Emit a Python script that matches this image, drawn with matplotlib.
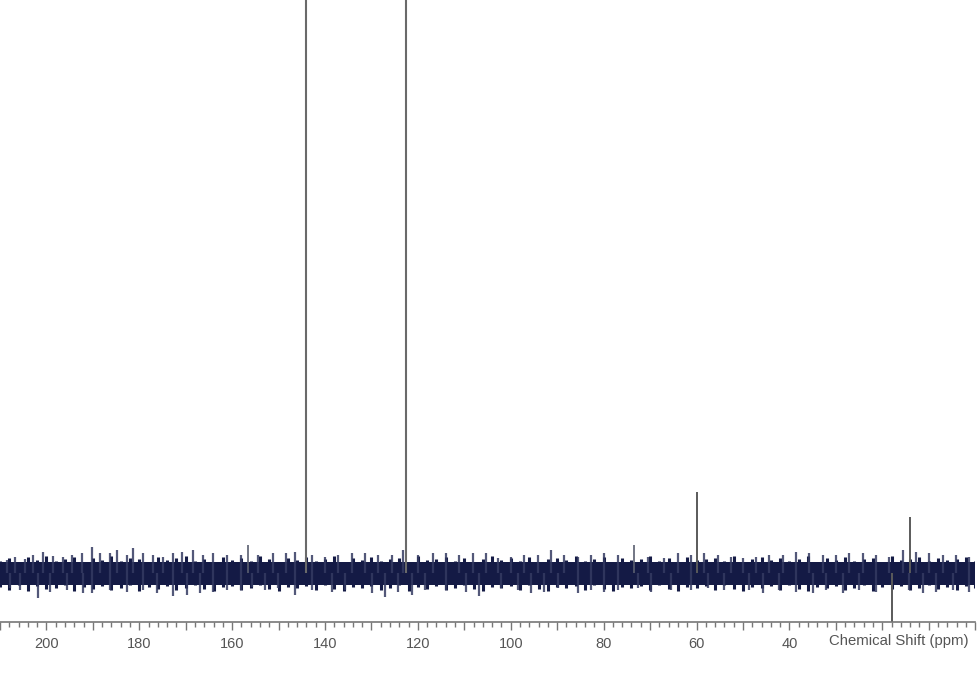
import numpy as np
import matplotlib.pyplot as plt
from matplotlib.ticker import MultipleLocator, FuncFormatter

# noise band, sampled every 2 ppm from 210 down to 0 (upper / lower excursion)
band_ppm = np.arange(210, -1, -2)
band_hi = [12, 15, 11, 16, 13, 17, 12, 14, 16, 11,
           15, 13, 17, 12, 15, 14, 11, 16, 13, 15,
           17, 12, 14, 11, 16, 13, 15, 12, 17, 14,
           11, 15, 13, 16, 12, 14, 17, 11, 15, 13,
           16, 12, 14, 15, 11, 17, 13, 14, 16, 12,
           15, 11, 14, 17, 13, 15, 12, 16, 11, 14,
           15, 13, 17, 12, 14, 16, 11, 15, 13, 14,
           17, 12, 15, 11, 16, 13, 14, 15, 12, 17,
           11, 14, 16, 13, 15, 12, 14, 17, 11, 15,
           13, 16, 12, 14, 15, 11, 17, 13, 14, 16,
           12, 15, 13, 14, 16, 12]
band_lo = [-14, -17, -12, -18, -13, -16, -15, -12, -18, -14,
           -16, -13, -17, -15, -12, -18, -14, -16, -13, -17,
           -15, -12, -16, -18, -14, -13, -17, -15, -12, -16,
           -18, -14, -15, -13, -17, -12, -16, -18, -14, -15,
           -13, -17, -15, -12, -18, -14, -16, -13, -17, -15,
           -12, -16, -18, -14, -15, -13, -17, -12, -16, -18,
           -14, -15, -13, -17, -12, -16, -18, -14, -15, -13,
           -17, -12, -16, -18, -14, -15, -13, -17, -12, -16,
           -18, -14, -15, -13, -17, -12, -16, -18, -14, -15,
           -13, -17, -15, -12, -18, -14, -16, -13, -17, -15,
           -12, -16, -14, -17, -13, -15]
core_hi = 11
core_lo = -12

# noise spikes above the band
up_ppm = [208.5, 206.8, 204.6, 202.9, 200.7, 198.6, 196.4, 194.5, 192.3, 190.2, 188.4,
          186.3, 184.8, 182.6, 181.3, 179.2, 177.0, 174.9, 172.7, 170.8, 168.4, 166.2,
          164.1, 161.1, 158.2, 154.4, 151.3, 148.5, 146.4, 142.7, 139.9, 137.1, 134.1,
          131.3, 128.5, 125.5, 123.3, 119.9, 116.8, 114.0, 111.2, 108.2, 105.4, 102.8,
          100.0, 97.2, 94.2, 91.4, 88.6, 85.6, 82.8, 80.0, 77.0, 70.5, 67.0, 64.0, 61.2,
          58.4, 55.4, 52.6, 50.0, 47.2, 44.4, 41.4, 38.6, 35.8, 32.8, 30.0, 27.1, 24.1,
          21.3, 18.5, 15.5, 12.7, 9.9, 6.9, 4.1, 1.3]
up_h = [13, 16, 14, 18, 21, 17, 16, 18, 20, 26, 20,
        20, 23, 18, 25, 20, 18, 16, 20, 21, 23, 18,
        20, 18, 18, 18, 20, 20, 21, 18, 16, 18, 20,
        20, 18, 18, 23, 18, 20, 20, 18, 20, 20, 15,
        16, 18, 18, 23, 18, 16, 18, 20, 18, 16, 15, 20, 18,
        20, 18, 16, 15, 16, 18, 18, 21, 20, 18, 18, 20, 20,
        18, 16, 23, 21, 20, 18, 18, 16]

# noise spikes below the band
dn_ppm = [207.8, 205.7, 201.8, 199.2, 195.6, 192.1, 190.2, 186.3, 182.6, 179.2, 176.1,
          172.7, 169.7, 166.9, 164.1, 161.1, 158.2, 155.7, 152.9, 150.1, 146.4, 142.7,
          138.4, 135.6, 129.8, 127.0, 124.2, 121.2, 118.4, 114.0, 109.7, 106.9, 102.2,
          98.5, 95.7, 92.9, 89.9, 85.6, 82.8, 80.0, 77.0, 72.6, 69.8, 65.5, 61.2, 57.6,
          54.1, 48.7, 45.7, 42.2, 38.6, 34.9, 32.1, 28.4, 25.0, 21.3, 14.2, 11.2, 8.4,
          4.7, 1.3]
dn_h = [-15, -17, -25, -19, -17, -20, -20, -17, -19, -17, -20,
        -23, -22, -20, -19, -17, -17, -14, -17, -15, -22, -17,
        -19, -17, -20, -24, -19, -22, -17, -17, -19, -23, -15,
        -17, -20, -19, -15, -20, -17, -19, -17, -15, -19, -17, -17, -15,
        -17, -17, -20, -17, -19, -20, -17, -20, -17, -19, -17, -20, -19,
        -17, -19]

# resolved signals
peak_ppm = [144.2, 122.5, 156.5, 73.5, 59.9, 14.0, 17.9]
peak_h = [700, 700, 28, 28, 81, 56, -49]

navy = '#141a45'

fig = plt.figure(figsize=(9.8, 6.83), dpi=100)
ax = fig.add_axes([0.0, 0.0893, 0.995, 0.9107])

ax.axhspan(core_lo, core_hi, xmin=0.002, xmax=1.0, color=navy, lw=0)
ax.vlines(band_ppm, band_lo, band_hi, color=navy, lw=2.2)
ax.vlines(up_ppm, 0, up_h, color='#353b62', lw=1.6, alpha=0.85)
ax.vlines(dn_ppm, 0, dn_h, color='#353b62', lw=1.6, alpha=0.85)

ax.vlines(peak_ppm[:2], 0, peak_h[:2], color='#6a6a6a', lw=1.5)
ax.vlines(peak_ppm[2:4], 0, peak_h[2:4], color='#5a5f70', lw=1.2)
ax.vlines(peak_ppm[4:], 0, peak_h[4:], color='#5a5a5a', lw=1.4)

ax.set_xlim(210, 0)
ax.set_ylim(-49, 573)

for s in ['top', 'left', 'right']:
    ax.spines[s].set_visible(False)
ax.spines['bottom'].set_color('#777777')
ax.spines['bottom'].set_linewidth(1.2)
ax.set_yticks([])

ax.xaxis.set_major_locator(MultipleLocator(10))
ax.xaxis.set_minor_locator(MultipleLocator(2))
ax.xaxis.set_major_formatter(FuncFormatter(
    lambda v, p: f'{int(round(v))}' if (round(v) % 20 == 0 and round(v) >= 40) else ''))
ax.tick_params(axis='x', which='major', length=6, width=1, color='#777777',
               labelcolor='#555555', labelsize=10.5, pad=5)
ax.tick_params(axis='x', which='minor', length=3.5, width=1, color='#777777')
for lab in ax.get_xticklabels():
    lab.set_family('Liberation Sans')

ax.annotate('Chemical Shift (ppm)', xy=(16.4, 0), xycoords=('data', 'axes fraction'),
            xytext=(0, -14), textcoords='offset points', ha='center', va='center',
            fontsize=10.7, color='#555555', family='Liberation Sans')

plt.savefig('out.png', dpi=100)
